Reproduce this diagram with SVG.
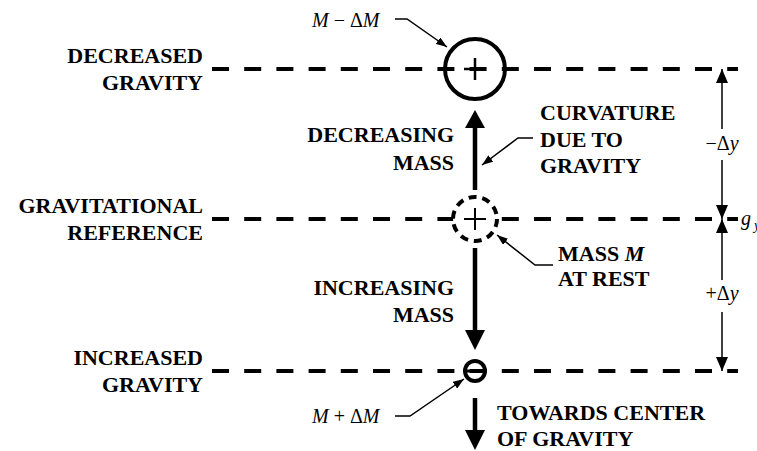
<svg xmlns="http://www.w3.org/2000/svg" width="757" height="451" viewBox="0 0 757 451">
<style>
.lbl{font-family:"Liberation Serif","Times New Roman",serif;font-size:22px;font-weight:bold;fill:#000}
.math{font-family:"Liberation Serif","Times New Roman",serif;font-size:20px;fill:#000}
.it{font-style:italic}
.dash{stroke:#000;stroke-width:4;stroke-dasharray:17 15.2;fill:none}
.thin{stroke:#000;stroke-width:1.5;fill:none}
.shaft{stroke:#000;stroke-width:4.5;fill:none}
</style>
<defs>
<marker id="lead" markerUnits="userSpaceOnUse" markerWidth="11" markerHeight="8" refX="11" refY="4" orient="auto"><path d="M0,0 L11,4 L0,8 z" fill="#000"/></marker>
<marker id="dim" markerUnits="userSpaceOnUse" markerWidth="14" markerHeight="12" refX="14" refY="6" orient="auto"><path d="M0,0 L14,6 L0,12 z" fill="#000"/></marker>
</defs>
<rect width="757" height="451" fill="#fff"/>

<g id="levels">
<line class="dash" x1="212" y1="69" x2="738" y2="69"/>
<line class="dash" x1="212" y1="219" x2="738" y2="219"/>
<line class="dash" x1="212" y1="371" x2="738" y2="371"/>
</g>

<g id="label-decreased">
<text class="lbl" x="203" y="63" text-anchor="end">DECREASED</text>
<text class="lbl" x="203" y="90" text-anchor="end">GRAVITY</text>
</g>
<g id="label-reference">
<text class="lbl" x="203" y="213" text-anchor="end">GRAVITATIONAL</text>
<text class="lbl" x="203" y="240" text-anchor="end">REFERENCE</text>
</g>
<g id="label-increased">
<text class="lbl" x="203" y="365" text-anchor="end">INCREASED</text>
<text class="lbl" x="203" y="392" text-anchor="end">GRAVITY</text>
</g>

<g id="mass-decreased">
<circle cx="475" cy="69" r="30" fill="none" stroke="#000" stroke-width="4"/>
<line x1="464" y1="69" x2="486" y2="69" stroke="#000" stroke-width="2.5"/>
<line x1="475" y1="58" x2="475" y2="80" stroke="#000" stroke-width="2.5"/>
</g>
<g id="mass-rest">
<circle cx="475" cy="219" r="22" fill="#fff" stroke="#000" stroke-width="4" stroke-dasharray="8 5.8"/>
<line x1="464" y1="219" x2="486" y2="219" stroke="#000" stroke-width="2"/>
<line x1="475" y1="208" x2="475" y2="230" stroke="#000" stroke-width="2"/>
</g>
<g id="mass-increased">
<circle cx="475" cy="371" r="10" fill="none" stroke="#000" stroke-width="4"/>
<line x1="466" y1="371" x2="484" y2="371" stroke="#000" stroke-width="3"/>
</g>

<g id="label-m-minus">
<text class="math" x="312" y="27"><tspan class="it">M</tspan>  − Δ<tspan class="it">M</tspan></text>
</g>
<g id="label-m-plus">
<text class="math" x="312" y="423"><tspan class="it">M</tspan> + Δ<tspan class="it">M</tspan></text>
</g>
<g id="label-decreasing">
<text class="lbl" x="454" y="142" text-anchor="end">DECREASING</text>
<text class="lbl" x="454" y="170" text-anchor="end">MASS</text>
</g>
<g id="label-increasing">
<text class="lbl" x="454" y="295" text-anchor="end">INCREASING</text>
<text class="lbl" x="454" y="322" text-anchor="end">MASS</text>
</g>
<g id="label-curvature">
<text class="lbl" x="540" y="120">CURVATURE</text>
<text class="lbl" x="540" y="147">DUE TO</text>
<text class="lbl" x="540" y="173">GRAVITY</text>
</g>
<g id="label-mass-rest">
<text class="lbl" x="558" y="261">MASS <tspan font-style="italic">M</tspan></text>
<text class="lbl" x="558" y="286">AT REST</text>
</g>
<g id="label-towards">
<text class="lbl" x="497" y="420">TOWARDS CENTER</text>
<text class="lbl" x="497" y="446">OF GRAVITY</text>
</g>
<g id="label-dy-minus">
<text class="math" x="722" y="150" text-anchor="middle">−Δ<tspan class="it">y</tspan></text>
</g>
<g id="label-dy-plus">
<text class="math" x="722" y="300" text-anchor="middle">+Δ<tspan class="it">y</tspan></text>
</g>
<g id="label-gy">
<text class="math" x="741" y="225" font-size="21"><tspan class="it">g</tspan><tspan class="it" font-size="14" dx="3" dy="5">y</tspan></text>
</g>

<g id="connectors">
<line class="shaft" x1="475" y1="190" x2="475" y2="126"/>
<polygon points="475,110 485,128 465,128" fill="#000"/>
<line class="shaft" x1="475" y1="248" x2="475" y2="332"/>
<polygon points="475,350 485,330 465,330" fill="#000"/>
<line class="shaft" x1="475" y1="398" x2="475" y2="432"/>
<polygon points="475,450 485,430 465,430" fill="#000"/>

<polyline class="thin" points="395,19 407,19 447,47" marker-end="url(#lead)"/>
<polyline class="thin" points="533,138 518,138 482,165" marker-end="url(#lead)"/>
<polyline class="thin" points="553,265 535,265 497,235" marker-end="url(#lead)"/>
<polyline class="thin" points="395,416 410,416 464,379" marker-end="url(#lead)"/>

<line class="thin" x1="722" y1="129" x2="722" y2="69" marker-end="url(#dim)"/>
<line class="thin" x1="722" y1="160" x2="722" y2="219" marker-end="url(#dim)"/>
<line class="thin" x1="722" y1="280" x2="722" y2="219" marker-end="url(#dim)"/>
<line class="thin" x1="722" y1="312" x2="722" y2="371" marker-end="url(#dim)"/>
</g>
</svg>
